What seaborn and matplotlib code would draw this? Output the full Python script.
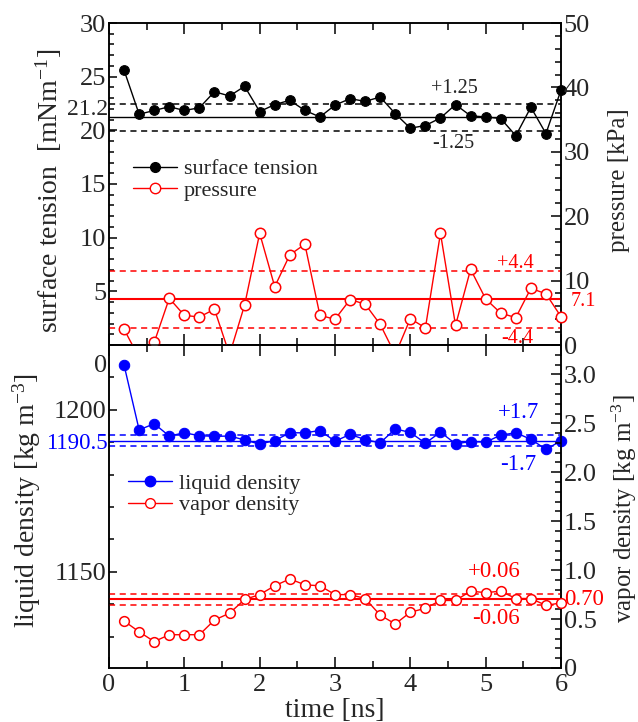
import matplotlib
matplotlib.use("Agg")
import matplotlib.pyplot as plt
import seaborn as sns
from matplotlib.ticker import MultipleLocator, FixedLocator, FixedFormatter
from matplotlib.lines import Line2D
from matplotlib.transforms import Bbox, TransformedBbox

# ---- data -------------------------------------------------------------
time_ns = [0.2, 0.4, 0.6, 0.8, 1.0, 1.2, 1.4, 1.6, 1.8, 2.0,
           2.2, 2.4, 2.6, 2.8, 3.0, 3.2, 3.4, 3.6, 3.8, 4.0,
           4.2, 4.4, 4.6, 4.8, 5.0, 5.2, 5.4, 5.6, 5.8, 6.0]

surface_tension = [25.6, 21.5, 21.85, 22.2, 21.85, 22.1, 23.6, 23.2, 24.1, 21.75,
                   22.4, 22.8, 21.85, 21.25, 22.35, 22.95, 22.7, 23.1, 21.55, 20.2,
                   20.45, 21.15, 22.4, 21.35, 21.25, 21.1, 19.5, 22.15, 19.7, 23.75]

pressure_kpa = [2.45, -2.0, 0.4, 7.25, 4.6, 4.35, 5.55, -1.5, 6.2, 17.35,
                9.05, 14.0, 15.65, 4.6, 4.0, 7.05, 6.35, 3.2, -1.5, 4.1,
                2.65, 17.35, 3.05, 11.75, 7.15, 4.95, 4.25, 8.8, 7.95, 4.4]

liquid_density = [1213.8, 1193.8, 1195.7, 1191.9, 1192.9, 1192.0, 1191.8, 1191.9, 1190.7, 1189.4,
                  1190.5, 1192.9, 1192.9, 1193.6, 1190.3, 1192.4, 1190.8, 1189.8, 1194.1, 1193.0,
                  1189.7, 1193.1, 1189.5, 1190.2, 1190.0, 1192.2, 1192.9, 1190.9, 1187.8, 1190.4]

vapor_density = [0.48, 0.37, 0.27, 0.34, 0.34, 0.34, 0.49, 0.56, 0.70, 0.75,
                 0.84, 0.91, 0.85, 0.84, 0.75, 0.75, 0.71, 0.54, 0.45, 0.57,
                 0.61, 0.69, 0.69, 0.785, 0.77, 0.785, 0.71, 0.71, 0.64, 0.665]

st_mean, st_err = 21.2, 1.25
p_mean, p_err = 7.1, 4.4
rl_mean, rl_err = 1190.5, 1.7
rv_mean, rv_err = 0.70, 0.06

# ---- style ------------------------------------------------------------
sns.set_theme(style="ticks")
plt.rcParams["font.family"] = ["Liberation Serif", "DejaVu Serif"]
plt.rcParams["mathtext.fontset"] = "custom"
plt.rcParams["mathtext.rm"] = "Liberation Serif"
plt.rcParams["mathtext.it"] = "Liberation Serif:italic"
plt.rcParams["axes.linewidth"] = 1.1
plt.rcParams["axes.edgecolor"] = "black"

TICK = 19
LABEL = 20
LABEL_R = 18
LEG = 16
ANN_TOP = 14.5
ANN_BOT = 16.5
RED = "#ff0000"
BLUE = "#0000ff"

fig = plt.figure(figsize=(6.38, 7.22), dpi=100)
L, W = 109 / 638, 452 / 638
ax1 = fig.add_axes([L, 1 - 345 / 722, W, 322 / 722])
ax2 = fig.add_axes([L, 1 - 668 / 722, W, 323 / 722])
ax1r = ax1.twinx()
ax2r = ax2.twinx()


def style_x(ax, labels):
    ax.set_xlim(0, 6)
    ax.xaxis.set_major_locator(MultipleLocator(1))
    ax.xaxis.set_minor_locator(MultipleLocator(0.5))
    ax.tick_params(axis="x", which="both", direction="in", top=True, bottom=True,
                   labelsize=TICK, pad=4, color="black")
    ax.tick_params(axis="x", which="major", length=8, width=1.1)
    ax.tick_params(axis="x", which="minor", length=5, width=1.1)
    if not labels:
        ax.tick_params(axis="x", labelbottom=False)


def style_y(ax, side, major, minor, maj_len=6, min_len=3.5):
    ax.yaxis.set_major_locator(major)
    ax.yaxis.set_minor_locator(minor)
    kw = dict(direction="in", labelsize=TICK, pad=2, color="black")
    if side == "left":
        ax.tick_params(axis="y", which="both", left=True, right=False, **kw)
    else:
        ax.tick_params(axis="y", which="both", left=False, right=True, **kw)
    ax.tick_params(axis="y", which="major", length=maj_len, width=1.1)
    ax.tick_params(axis="y", which="minor", length=min_len, width=1.1)


def mean_band(ax, mean, err, color, lw_mean):
    ax.axhline(mean, color=color, lw=lw_mean, zorder=1)
    for v in (mean + err, mean - err):
        ax.axhline(v, color=color, lw=1.1, ls=(0, (4, 3)), zorder=1)


def widen_clip(ax):
    # let the end markers at t = 0 / 6 show in full, keep vertical clipping
    box = TransformedBbox(Bbox([[-0.05, 0.0], [1.05, 1.0]]), ax.transAxes)
    line = ax.lines[-1]
    line.set_clip_box(box)
    line.set_clip_path(None)


# ---- top panel: surface tension (left) and pressure (right) -------------
ax1.set_ylim(0, 30)
ax1r.set_ylim(0, 50)
mean_band(ax1, st_mean, st_err, "black", 1.0)
mean_band(ax1r, p_mean, p_err, RED, 1.5)

sns.lineplot(x=time_ns, y=surface_tension, ax=ax1, color="black", errorbar=None,
             marker="o", markersize=7, markerfacecolor="black",
             markeredgecolor="black", linewidth=1.0, zorder=3)
widen_clip(ax1)
sns.lineplot(x=time_ns, y=pressure_kpa, ax=ax1r, color=RED, errorbar=None,
             marker="o", markersize=7.5, markerfacecolor="white",
             markeredgecolor=RED, markeredgewidth=1.1, linewidth=1.0, zorder=3)
widen_clip(ax1r)

style_x(ax1, labels=False)
style_x(ax1r, labels=False)
style_y(ax1, "left", MultipleLocator(5), MultipleLocator(1))
ax1.yaxis.set_major_locator(FixedLocator([0, 5, 10, 15, 20, 25, 30]))
ax1.yaxis.set_major_formatter(FixedFormatter(["", "5", "10", "15", "20", "25", "30"]))
style_y(ax1r, "right", MultipleLocator(10), MultipleLocator(2), maj_len=7, min_len=4)

ax1.set_ylabel(r"surface tension  [mNm$^{-1}$]", fontsize=LABEL)
ax1.yaxis.set_label_coords(-0.10, 0.478)
ax1r.set_ylabel("pressure [kPa]", fontsize=LABEL_R)
ax1r.yaxis.set_label_coords(1.103, 0.512)

ax1.text(4.59, 23.9, "+1.25", fontsize=ANN_TOP, ha="center", va="center")
ax1.text(4.57, 18.8, "-1.25", fontsize=ANN_TOP, ha="center", va="center")
ax1.text(-0.003, 21.9, "21.2", fontsize=17, ha="right", va="center",
         transform=ax1.get_yaxis_transform())
ax1.text(5.39, 7.57, "+4.4", fontsize=ANN_TOP, ha="center", va="center", color=RED)
ax1.text(5.42, 0.65, "-4.4", fontsize=ANN_TOP, ha="center", va="center", color=RED)
ax1r.text(1.022, p_mean - 0.4, "7.1", fontsize=ANN_TOP, ha="left", va="center", color=RED,
          transform=ax1r.get_yaxis_transform())

top_handles = [
    Line2D([], [], color="black", marker="o", markersize=7, lw=1.0,
           markerfacecolor="black"),
    Line2D([], [], color=RED, marker="o", markersize=7.5, lw=1.0,
           markerfacecolor="white", markeredgecolor=RED),
]
ax1r.legend(top_handles, ["surface tension", "pressure"], loc="upper left",
            bbox_to_anchor=(0.053, 0.578), frameon=False, fontsize=LEG,
            borderpad=0, borderaxespad=0, handlelength=2.0, handletextpad=0.3,
            labelspacing=0.05)

# ---- bottom panel: liquid density (left) and vapor density (right) ------
ax2.set_ylim(1120.3, 1220.0)
ax2r.set_ylim(0, 3.3)
mean_band(ax2, rl_mean, rl_err, BLUE, 1.0)
mean_band(ax2r, rv_mean, rv_err, RED, 1.5)

sns.lineplot(x=time_ns, y=liquid_density, ax=ax2, color=BLUE, errorbar=None,
             marker="o", markersize=7.5, markerfacecolor=BLUE,
             markeredgecolor=BLUE, linewidth=1.0, zorder=3)
widen_clip(ax2)
sns.lineplot(x=time_ns, y=vapor_density, ax=ax2r, color=RED, errorbar=None,
             marker="o", markersize=7, markerfacecolor="white",
             markeredgecolor=RED, markeredgewidth=1.1, linewidth=1.0, zorder=3)
widen_clip(ax2r)

style_x(ax2, labels=True)
style_x(ax2r, labels=True)
style_y(ax2, "left", FixedLocator([1150, 1200]), MultipleLocator(10))
style_y(ax2r, "right", MultipleLocator(0.5), MultipleLocator(0.1), maj_len=7, min_len=4)
ax2r.yaxis.set_major_locator(FixedLocator([0, 0.5, 1.0, 1.5, 2.0, 2.5, 3.0]))
ax2r.yaxis.set_major_formatter(FixedFormatter(["0", "0.5", "1.0", "1.5", "2.0", "2.5", "3.0"]))

ax2.set_xlabel("time [ns]", fontsize=LABEL, labelpad=1.5)
ax2.set_ylabel(r"liquid density [kg m$^{-3}$]", fontsize=LABEL)
ax2.yaxis.set_label_coords(-0.146, 0.517)
ax2r.set_ylabel(r"vapor density [kg m$^{-3}$]", fontsize=LABEL_R)
ax2r.yaxis.set_label_coords(1.108, 0.492)

ax2.text(5.43, 1199.1, "+1.7", fontsize=ANN_BOT, ha="center", va="center", color=BLUE)
ax2.text(5.43, 1183.0, "-1.7", fontsize=ANN_BOT, ha="center", va="center", color=BLUE)
ax2.text(-0.002, 1189.5, "1190.5", fontsize=ANN_BOT, ha="right", va="center", color=BLUE,
         transform=ax2.get_yaxis_transform())
ax2.text(-0.004, 1213.6, "0", fontsize=TICK, ha="right", va="center",
         transform=ax2.get_yaxis_transform())
ax2.text(5.12, 1150.0, "+0.06", fontsize=ANN_BOT, ha="center", va="center", color=RED)
ax2.text(5.13, 1135.5, "-0.06", fontsize=ANN_BOT, ha="center", va="center", color=RED)
ax2r.text(1.008, rv_mean, "0.70", fontsize=ANN_BOT, ha="left", va="center", color=RED,
          transform=ax2r.get_yaxis_transform())

bottom_handles = [
    Line2D([], [], color=BLUE, marker="o", markersize=7.5, lw=1.0,
           markerfacecolor=BLUE),
    Line2D([], [], color=RED, marker="o", markersize=7, lw=1.0,
           markerfacecolor="white", markeredgecolor=RED),
]
ax2r.legend(bottom_handles, ["liquid density", "vapor density"], loc="upper left",
            bbox_to_anchor=(0.042, 0.603), frameon=False, fontsize=LEG,
            borderpad=0, borderaxespad=0, handlelength=2.0, handletextpad=0.3,
            labelspacing=0.05)

for ax in (ax1, ax1r, ax2, ax2r):
    for s in ax.spines.values():
        s.set_linewidth(1.1)
        s.set_color("black")

fig.savefig("out.png", dpi=100)
